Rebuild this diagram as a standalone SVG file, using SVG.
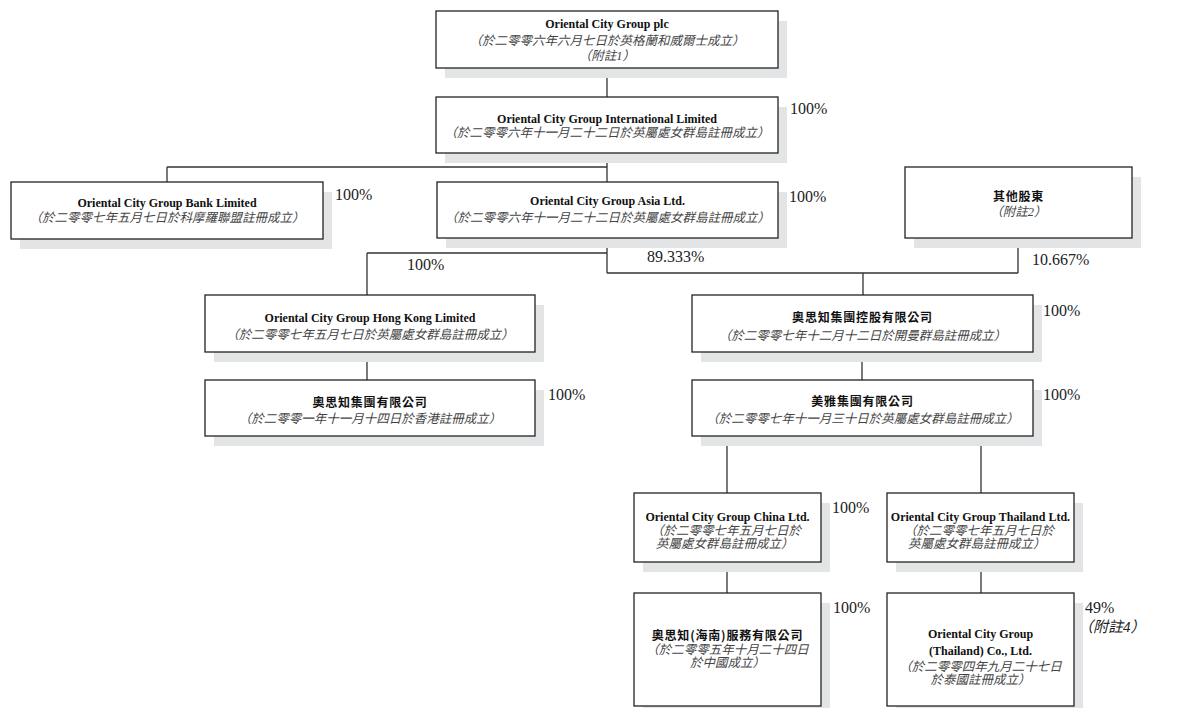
<svg xmlns="http://www.w3.org/2000/svg" width="1177" height="708" viewBox="0 0 1177 708">
<style>
.bx{fill:#fff;stroke:#222;stroke-width:1.3}
.sh{fill:#e3e4e6}
.c{stroke:#333;stroke-width:1.3;fill:none}
.t{font-family:"Liberation Serif",serif;font-weight:bold;font-size:12px;fill:#111;text-anchor:middle}
.tc{font-family:"Noto Sans CJK TC","Noto Sans CJK SC",sans-serif;font-weight:bold;font-size:12px;fill:#111;text-anchor:middle;letter-spacing:0.8px}
.s{font-family:"Liberation Serif","Noto Sans CJK TC",serif;font-style:italic;font-size:12.5px;fill:#444;text-anchor:middle}
.sl{font-family:"Liberation Serif","Noto Sans CJK TC",serif;font-style:italic;font-size:12.5px;fill:#444}
.p{font-family:"Liberation Serif",serif;font-size:16px;fill:#222}
.pi{font-family:"Liberation Serif","Noto Sans CJK TC",serif;font-style:italic;font-size:15px;fill:#222}
</style>
<rect width="1177" height="708" fill="#fff"/>
<g id="connectors">
<path class="c" d="M607,68V97 M607,153V182 M167,167H607 M167,167V182 M607,238V273 M367,253H607 M367,253V295 M607,273H1018 M1018,238V273 M863,273V295 M367,352V380 M862,352V380 M727,436V493 M981,436V493 M727,562V593 M981,562V593"/>
</g>
<g id="n1">
<rect class="sh" x="445" y="21" width="342" height="57"/>
<rect class="bx" x="436" y="11" width="342" height="57"/>
<text class="t" x="607" y="28">Oriental City Group plc</text>
<text class="s" x="607" y="45">（於二零零六年六月七日於英格蘭和威爾士成立）</text>
<text class="s" x="607" y="60">（附註1）</text>
</g>
<g id="n2">
<rect class="sh" x="445" y="107" width="342" height="56"/>
<rect class="bx" x="436" y="97" width="342" height="56"/>
<text class="t" x="607" y="123">Oriental City Group International Limited</text>
<text class="s" x="607" y="137">（於二零零六年十一月二十二日於英屬處女群島註冊成立）</text>
<text class="p" x="790" y="114">100%</text>
</g>
<g id="n3">
<rect class="sh" x="20" y="192" width="312" height="57"/>
<rect class="bx" x="11" y="182" width="312" height="57"/>
<text class="t" x="167" y="207">Oriental City Group Bank Limited</text>
<text class="s" x="167" y="222">（於二零零七年五月七日於科摩羅聯盟註冊成立）</text>
<text class="p" x="335" y="200">100%</text>
</g>
<g id="n4">
<rect class="sh" x="446" y="192" width="341" height="56"/>
<rect class="bx" x="437" y="182" width="341" height="56"/>
<text class="t" x="607.5" y="205">Oriental City Group Asia Ltd.</text>
<text class="s" x="607.5" y="222">（於二零零六年十一月二十二日於英屬處女群島註冊成立）</text>
<text class="p" x="789" y="202">100%</text>
<text class="p" x="647" y="262">89.333%</text>
</g>
<g id="n5">
<rect class="sh" x="914" y="177" width="227" height="71"/>
<rect class="bx" x="905" y="167" width="227" height="71"/>
<text class="tc" x="1018.5" y="201">其他股東</text>
<text class="s" x="1018.5" y="216">（附註2）</text>
<text class="p" x="1032" y="265">10.667%</text>
</g>
<g id="n6">
<rect class="sh" x="214" y="305" width="330" height="57"/>
<rect class="bx" x="205" y="295" width="330" height="57"/>
<text class="t" x="370" y="322">Oriental City Group Hong Kong Limited</text>
<text class="s" x="370" y="339">（於二零零七年五月七日於英屬處女群島註冊成立）</text>
<text class="p" x="407" y="270">100%</text>
</g>
<g id="n7">
<rect class="sh" x="214" y="390" width="330" height="56"/>
<rect class="bx" x="205" y="380" width="330" height="56"/>
<text class="tc" x="370" y="407">奧思知集團有限公司</text>
<text class="s" x="370" y="423">（於二零零一年十一月十四日於香港註冊成立）</text>
<text class="p" x="548" y="400">100%</text>
</g>
<g id="n8">
<rect class="sh" x="701" y="305" width="341" height="57"/>
<rect class="bx" x="692" y="295" width="341" height="57"/>
<text class="tc" x="862.5" y="322">奧思知集團控股有限公司</text>
<text class="s" x="862.5" y="340">（於二零零七年十二月十二日於開曼群島註冊成立）</text>
<text class="p" x="1043" y="316">100%</text>
</g>
<g id="n9">
<rect class="sh" x="701" y="390" width="341" height="56"/>
<rect class="bx" x="692" y="380" width="341" height="56"/>
<text class="tc" x="862.5" y="406">美雅集團有限公司</text>
<text class="s" x="862.5" y="423">（於二零零七年十一月三十日於英屬處女群島註冊成立）</text>
<text class="p" x="1043" y="400">100%</text>
</g>
<g id="n10">
<rect class="sh" x="643" y="503" width="187" height="69"/>
<rect class="bx" x="634" y="493" width="187" height="69"/>
<text class="t" x="727.5" y="521">Oriental City Group China Ltd.</text>
<text class="sl" x="651" y="535">（於二零零七年五月七日於</text>
<text class="sl" x="656" y="548">英屬處女群島註冊成立）</text>
<text class="p" x="832" y="513">100%</text>
</g>
<g id="n11">
<rect class="sh" x="896" y="503" width="187" height="69"/>
<rect class="bx" x="887" y="493" width="187" height="69"/>
<text class="t" x="980.5" y="521">Oriental City Group Thailand Ltd.</text>
<text class="sl" x="904" y="535">（於二零零七年五月七日於</text>
<text class="sl" x="908" y="548">英屬處女群島註冊成立）</text>
</g>
<g id="n12">
<rect class="sh" x="643" y="603" width="187" height="113"/>
<rect class="bx" x="634" y="593" width="187" height="113"/>
<text class="tc" x="727.5" y="640">奧思知(海南)服務有限公司</text>
<text class="s" x="727.5" y="654">（於二零零五年十月二十四日</text>
<text class="s" x="727.5" y="667">於中國成立）</text>
<text class="p" x="833" y="613">100%</text>
</g>
<g id="n13">
<rect class="sh" x="896" y="603" width="187" height="113"/>
<rect class="bx" x="887" y="593" width="187" height="113"/>
<text class="t" x="980.5" y="638">Oriental City Group</text>
<text class="t" x="980.5" y="655">(Thailand) Co., Ltd.</text>
<text class="s" x="980.5" y="671">（於二零零四年九月二十七日</text>
<text class="s" x="980.5" y="684">於泰國註冊成立）</text>
<text class="p" x="1085" y="613">49%</text>
<text class="pi" x="1078" y="632">（附註4）</text>
</g>
</svg>
